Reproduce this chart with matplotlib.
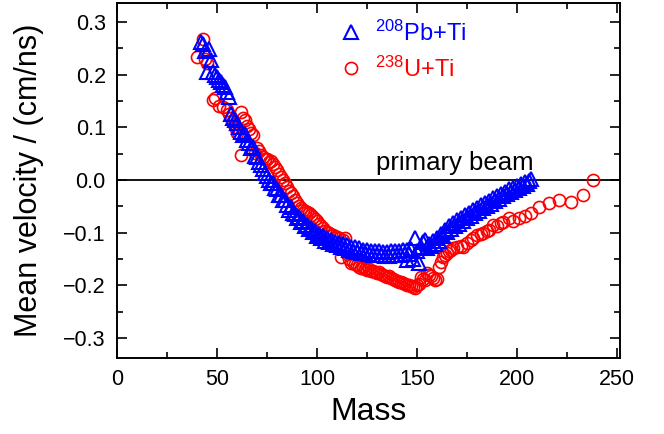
import numpy as np
import matplotlib
matplotlib.use('Agg')
from matplotlib import pyplot as plt
from matplotlib.ticker import MultipleLocator, FuncFormatter

plt.rcParams['font.family'] = ['Liberation Sans', 'DejaVu Sans']
plt.rcParams['mathtext.fontset'] = 'custom'
plt.rcParams['mathtext.rm'] = 'Liberation Sans'
plt.rcParams['mathtext.default'] = 'rm'

# 208Pb+Ti : mass vs mean velocity (cm/ns)
pbMass = [42, 43, 44, 45, 46, 47, 48, 49, 50, 51, 52, 53, 54, 55, 56, 57, 58, 59, 60,
          61, 62, 63, 64, 65, 66, 67, 68, 69, 70, 71, 72, 73, 74, 75, 76, 77, 78, 79, 80,
          81, 82, 83, 84, 85, 86, 87, 88, 89, 90, 91, 92, 93, 94, 95, 96, 97, 98, 99, 100,
          101, 102, 103, 104, 105, 106, 107, 108, 109, 110, 111, 112, 113, 114, 115, 116,
          117, 118, 119, 120, 121, 122, 123, 124, 125, 126, 127, 128, 129, 130, 131, 132,
          133, 134, 135, 136, 137, 138, 139, 140, 141, 142, 143, 144, 145, 145, 146, 147,
          148, 149, 150, 151, 152, 153, 154, 155, 156, 157, 158, 159, 160, 161, 162, 163,
          164, 165, 166, 167, 168, 169, 170, 171, 172, 173, 174, 175, 176, 177, 178, 179,
          180, 181, 182, 183, 184, 185, 186, 187, 188, 189, 190, 191, 192, 193, 194, 195,
          196, 197, 198, 199, 200, 201, 202, 203, 204, 205, 206, 207]
pbVel = [0.262, 0.258, 0.245, 0.205, 0.248, 0.228, 0.205, 0.200, 0.196, 0.190, 0.186,
         0.180, 0.176, 0.168, 0.157, 0.125, 0.118, 0.114, 0.108, 0.100, 0.092, 0.086,
         0.088, 0.076, 0.070, 0.060, 0.062, 0.046, 0.044, 0.034, 0.028, 0.020, 0.014,
         0.008, 0.000, -0.006, -0.006, -0.015, -0.018, -0.028, -0.028, -0.038, -0.038,
         -0.048, -0.056, -0.052, -0.062, -0.064, -0.072, -0.070, -0.079, -0.078, -0.087,
         -0.085, -0.093, -0.092, -0.099, -0.097, -0.106, -0.102, -0.110, -0.106, -0.115,
         -0.111, -0.118, -0.114, -0.121, -0.117, -0.124, -0.119, -0.127, -0.122, -0.130,
         -0.124, -0.132, -0.127, -0.134, -0.128, -0.136, -0.130, -0.138, -0.132, -0.139,
         -0.133, -0.141, -0.134, -0.142, -0.135, -0.143, -0.135, -0.143, -0.136, -0.144,
         -0.136, -0.144, -0.135, -0.143, -0.135, -0.143, -0.134, -0.142, -0.133, -0.141,
         -0.152, -0.132, -0.140, -0.131, -0.150, -0.110, -0.134, -0.157, -0.128, -0.118,
         -0.114, -0.129, -0.122, -0.126, -0.116, -0.122, -0.110, -0.115, -0.102, -0.106,
         -0.094, -0.099, -0.088, -0.093, -0.082, -0.088, -0.076, -0.083, -0.072, -0.077,
         -0.066, -0.072, -0.062, -0.068, -0.057, -0.063, -0.053, -0.059, -0.048, -0.054,
         -0.044, -0.050, -0.039, -0.045, -0.035, -0.040, -0.031, -0.036, -0.026, -0.031,
         -0.022, -0.027, -0.018, -0.023, -0.015, -0.019, -0.011, -0.016, -0.008, -0.012,
         -0.004, -0.008, -0.002, 0.002]

# 238U+Ti : mass vs mean velocity (cm/ns)
uMass = [40, 43, 44, 45, 48, 49, 51, 53, 55, 56, 57, 58, 59, 60, 61, 62, 62, 63, 64,
         65, 66, 67, 68, 69, 70, 71, 72, 73, 74, 75, 76, 77, 78, 79, 80, 81, 82, 83, 84,
         85, 86, 87, 88, 89, 90, 91, 92, 93, 94, 95, 96, 97, 98, 99, 100, 101, 102, 103,
         104, 105, 106, 107, 108, 109, 110, 111, 112, 113, 114, 115, 116, 117, 118, 119,
         120, 121, 122, 123, 124, 125, 126, 127, 128, 129, 130, 131, 132, 133, 134, 135,
         136, 137, 138, 139, 140, 141, 142, 143, 144, 145, 146, 147, 148, 149, 150, 151,
         152, 153, 154, 155, 156, 157, 158, 159, 160, 161, 162, 163, 164, 165, 166, 167,
         168, 170, 172, 173, 175, 177, 178, 180, 182, 183, 185, 186, 188, 190, 192, 193,
         196, 198, 201, 204, 207, 211, 216, 221, 227, 233, 238]
uVel = [0.233, 0.268, 0.230, 0.222, 0.152, 0.155, 0.140, 0.139, 0.132, 0.126, 0.118,
        0.112, 0.100, 0.090, 0.088, 0.129, 0.047, 0.118, 0.114, 0.102, 0.096, 0.089,
        0.085, 0.051, 0.060, 0.055, 0.048, 0.044, 0.040, 0.040, 0.035, 0.036, 0.030,
        0.024, 0.019, 0.012, 0.006, 0.000, -0.006, -0.014, -0.020, -0.025, -0.030,
        -0.037, -0.043, -0.050, -0.053, -0.056, -0.058, -0.061, -0.063, -0.066, -0.070,
        -0.074, -0.078, -0.083, -0.088, -0.092, -0.096, -0.099, -0.101, -0.104, -0.105,
        -0.108, -0.108, -0.111, -0.146, -0.113, -0.110, -0.140, -0.150, -0.157, -0.155,
        -0.160, -0.162, -0.165, -0.167, -0.165, -0.168, -0.170, -0.168, -0.172, -0.172,
        -0.174, -0.176, -0.175, -0.178, -0.180, -0.182, -0.184, -0.183, -0.186, -0.188,
        -0.190, -0.191, -0.193, -0.194, -0.195, -0.197, -0.199, -0.200, -0.202, -0.203,
        -0.205, -0.200, -0.198, -0.184, -0.188, -0.190, -0.176, -0.180, -0.183, -0.186,
        -0.190, -0.188, -0.165, -0.155, -0.147, -0.142, -0.139, -0.135, -0.132, -0.129,
        -0.128, -0.126, -0.127, -0.120, -0.114, -0.110, -0.105, -0.102, -0.100, -0.096,
        -0.094, -0.086, -0.088, -0.082, -0.080, -0.072, -0.077, -0.072, -0.068, -0.063,
        -0.051, -0.043, -0.038, -0.042, -0.028, 0.000]

pbLabel = '$^{208}$Pb+Ti'
uLabel = '$^{238}$U+Ti'


def VelocityFormat(v, pos):
    # one decimal, proper minus sign, no "-0.0"
    if abs(v) < 1e-9:
        return '0.0'
    return ('%.1f' % v).replace('-', '\u2212')


fig = plt.figure(figsize=(6.64, 4.34), dpi=100)
ax = fig.add_axes([0.176, 0.175, 0.758, 0.818])

# Primary beam reference line
ax.axhline(0, color='black', lw=1.3, zorder=1)
ax.text(129.5, 0.009, 'primary beam', fontsize=18.5, ha='left', va='bottom')

ax.plot(uMass, uVel, 'o', ms=8.7, mfc='none', mec='#ff0000', mew=1.2, label=uLabel, zorder=2)
ax.plot(pbMass, pbVel, '^', ms=9.5, mfc='none', mec='#0000ff', mew=1.5, label=pbLabel, zorder=3)

ax.set_xlim(0, 251.5)
ax.set_ylim(-0.338, 0.336)

ax.xaxis.set_major_locator(MultipleLocator(50))
ax.xaxis.set_minor_locator(MultipleLocator(25))
ax.yaxis.set_major_locator(MultipleLocator(0.1))
ax.yaxis.set_minor_locator(MultipleLocator(0.05))
ax.yaxis.set_major_formatter(FuncFormatter(VelocityFormat))

ax.tick_params(which='both', direction='in', top=True, right=True, width=1.2, labelsize=15.5)
ax.tick_params(which='major', length=7, pad=8)
ax.tick_params(which='minor', length=4)
for s in ax.spines.values():
    s.set_linewidth(1.4)

ax.set_xlabel('Mass', fontsize=23, labelpad=5)
ax.set_ylabel('Mean velocity / (cm/ns)', fontsize=22, labelpad=14)

# Legend: triangles first, then circles
h, l = ax.get_legend_handles_labels()
leg = ax.legend(h[::-1], l[::-1], loc='upper left', bbox_to_anchor=(0.447, 0.951),
                frameon=False, fontsize=17, handlelength=0.8, handletextpad=0.6,
                labelspacing=0.45, borderpad=0, borderaxespad=0)
for t, c in zip(leg.get_texts(), ['#0000ff', '#ff0000']):
    t.set_color(c)

fig.savefig('out.png', dpi=100)
